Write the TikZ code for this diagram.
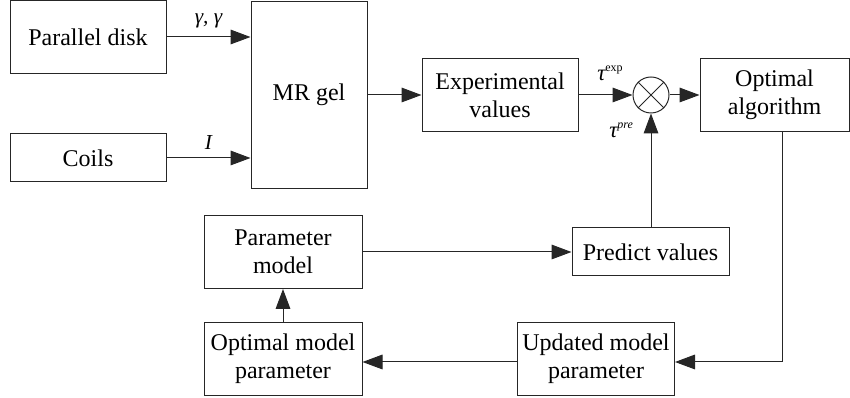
\documentclass[tikz,border=0pt]{standalone}
\usepackage{fontspec}
\setmainfont{Liberation Serif}
\usetikzlibrary{arrows.meta}
\begin{document}
\begin{tikzpicture}[x=0.75pt,y=-0.75pt,
  box/.style={draw=black!85,line width=0.75pt,rectangle,inner sep=0pt,align=center,
    font=\fontsize{18}{21}\selectfont},
  arr/.style={draw=black!85,line width=0.75pt,-{Triangle[length=15pt,width=11pt]}},
  ln/.style={draw=black!85,line width=0.75pt},
  lab/.style={font=\fontsize{16}{18}\selectfont\itshape,inner sep=0pt}]
\useasboundingbox (0,0) rectangle (850,398);
\node[box,minimum width=156*0.75pt,minimum height=73*0.75pt] (pd) at (88,37) {Parallel disk};
\node[box,minimum width=156*0.75pt,minimum height=48*0.75pt] (coils) at (88,158) {Coils};
\node[box,minimum width=116*0.75pt,minimum height=187*0.75pt] (mr) at (309,95) {MR gel};
\node[box,minimum width=156*0.75pt,minimum height=73*0.75pt] (exp) at (500,95) {Experimental\\values};
\node[draw=black!85,line width=0.75pt,circle,minimum size=36*0.75pt,inner sep=0pt] (circ) at (651,95) {};
\draw[ln] (circ.north east) -- (circ.south west) (circ.north west) -- (circ.south east);
\node[box,minimum width=149*0.75pt,minimum height=73*0.75pt] (opt) at (774.5,95) {Optimal\\algorithm};
\node[box,minimum width=158*0.75pt,minimum height=73*0.75pt] (pm) at (283,252) {Parameter\\model};
\node[box,minimum width=157*0.75pt,minimum height=48*0.75pt] (pv) at (650.5,252) {Predict values};
\node[box,minimum width=158*0.75pt,minimum height=73*0.75pt] (omp) at (283,359) {Optimal model\\parameter};
\node[box,minimum width=157*0.75pt,minimum height=73*0.75pt] (ump) at (596,359) {Updated model\\parameter};
\coordinate (fb) at (782,0);
\coordinate (fbr) at (0,362);
% connectors
\draw[arr] (pd.east) -- (pd.east -| mr.west) node[lab,midway,above=6pt] {γ, γ};
\draw[arr] (coils.east) -- (coils.east -| mr.west) node[lab,midway,above=6pt] {I};
\draw[arr] (mr.east |- exp.west) -- (exp.west);
\draw[arr] (exp.east) -- (circ.west);
\draw[arr] (circ.east) -- (opt.west);
\draw[arr] (pv.north -| circ.south) -- (circ.south);
\draw[arr] (pm.east) -- (pv.west);
\draw[arr] (omp.north) -- (pm.south);
\draw[arr] (opt.south -| fb) |- (ump.east |- fbr);
\draw[arr] (ump.west |- fbr) -- (omp.east |- fbr);
% tau labels
\node[inner sep=0pt,anchor=base west] (texp) at (597,81) {\fontsize{17}{18}\selectfont\itshape τ\raisebox{7pt}{\upshape\fontsize{9}{10}\selectfont exp}};
\node[inner sep=0pt,anchor=base west] (tpre) at (609,138) {\fontsize{17}{18}\selectfont\itshape τ\raisebox{7pt}{\fontsize{9}{10}\selectfont pre}};
\end{tikzpicture}
\end{document}
